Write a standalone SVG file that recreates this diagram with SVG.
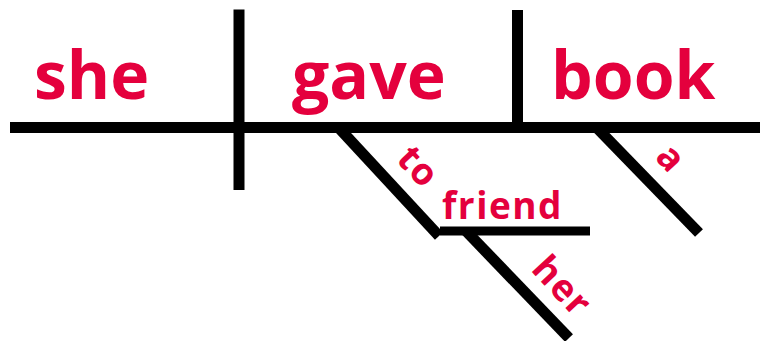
<svg xmlns="http://www.w3.org/2000/svg" width="760" height="341" viewBox="0 0 760 341">
<style>
.ln{stroke:#000;stroke-width:11;fill:none;stroke-linecap:butt}
.t{font-family:"Open Sans","Noto Sans",sans-serif;font-weight:bold;fill:#e4003d}
.big{font-size:66px}
.sm{font-size:37px;letter-spacing:1.5px}
</style>
<rect width="760" height="341" fill="#fff"/>
<g id="connectors">
<line class="ln" x1="10" y1="127.5" x2="760" y2="127.5"/>
<line class="ln" x1="239" y1="9.5" x2="239" y2="190"/>
<line class="ln" x1="517.5" y1="10" x2="517.5" y2="127"/>
<line class="ln" x1="338" y1="127" x2="439" y2="236"/>
<line class="ln" style="stroke-width:9" x1="440" y1="231" x2="590" y2="231"/>
<line class="ln" x1="466" y1="231" x2="569" y2="338"/>
<line class="ln" x1="597" y1="128" x2="699" y2="233"/>
</g>
<g id="she"><text class="t big" x="34" y="99">she</text></g>
<g id="gave"><text class="t big" x="292" y="99">gave</text></g>
<g id="book"><text class="t big" x="551" y="99">book</text></g>
<g id="to"><text class="t sm" transform="translate(395,160) rotate(47)">to</text></g>
<g id="friend"><text class="t sm" x="442" y="219">friend</text></g>
<g id="her"><text class="t sm" transform="translate(530,270) rotate(47)">her</text></g>
<g id="a"><text class="t sm" transform="translate(654,158) rotate(47)">a</text></g>
</svg>
